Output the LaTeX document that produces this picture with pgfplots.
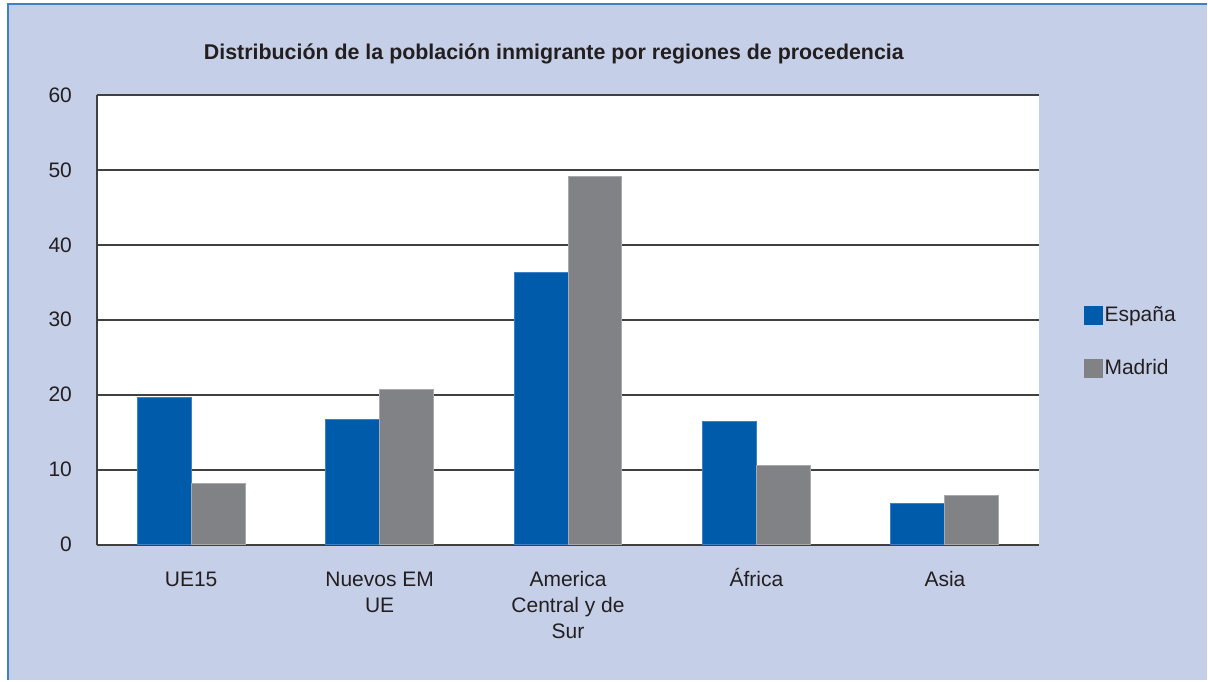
\documentclass[border=0pt]{standalone}
\usepackage{pgfplots}
\pgfplotsset{compat=1.18}
\usepackage{fontspec}
\setmainfont{Liberation Sans}
\definecolor{bgc}{HTML}{C5CFE8}
\definecolor{frameblue}{HTML}{3F7FC4}
\definecolor{esp}{HTML}{005BAA}
\definecolor{espedge}{HTML}{3F80C4}
\definecolor{mad}{HTML}{808285}
\definecolor{madedge}{HTML}{A7A9AC}
\definecolor{gridc}{HTML}{404040}
\definecolor{txt}{HTML}{231F20}
\begin{document}
\begin{tikzpicture}
% background panel (1px = 0.5pt)
\fill[white] (-48.5pt,-68pt) rectangle (555.5pt,272.5pt);
\fill[bgc] (-45pt,-68pt) rectangle (555.5pt,270.5pt);
\draw[frameblue,line width=1pt] (-44.5pt,-68pt) -- (-44.5pt,270.5pt) -- (555.5pt,270.5pt);
\begin{axis}[
    at={(0,0)}, anchor=south west,
    scale only axis,
    width=471.5pt,
    height=225pt,
    ybar=0pt,
    bar width=27pt,
    xmin=-0.5, xmax=4.5,
    ymin=0, ymax=60,
    ytick={0,10,...,60},
    xtick={0,1,2,3,4},
    xticklabels={UE15, Nuevos EM\\UE, America\\Central y de\\Sur, \smash{Á}frica, Asia},
    major tick length=0pt,
    axis background/.style={fill=white},
    axis x line*=bottom,
    axis y line*=left,
    axis line style={-, draw=gridc, line width=1pt},
    ymajorgrids,
    grid style={draw=gridc, line width=1pt},
    font=\fontsize{10.5}{13}\selectfont,
    /pgf/number format/assume math mode=true,
    tick label style={text=txt},
    yticklabel style={xshift=-9pt},
    xticklabel style={align=center, yshift=-10pt},
    title={\textbf{Distribución de la población inmigrante por regiones de procedencia}},
    title style={at={(0.485,1.0645)}, anchor=center, font=\fontsize{10.7}{13}\selectfont, text=txt},
    legend style={at={(1.0467,0.451)}, anchor=west, draw=none, fill=none,
        font=\fontsize{10.5}{13}\selectfont, text=txt, row sep=15.5pt,
        inner sep=0pt, nodes={inner sep=1pt}},
    legend cell align=left,
]
\addplot[fill=esp, draw=espedge, line width=0.5pt,
    legend image code/.code={\fill[esp] (0pt,-4.5pt) rectangle (9pt,4.5pt);}]
    coordinates {(0,19.6) (1,16.7) (2,36.3) (3,16.4) (4,5.5)};
\addplot[fill=mad, draw=madedge, line width=0.5pt,
    legend image code/.code={\fill[mad] (0pt,-4.5pt) rectangle (9pt,4.5pt);}]
    coordinates {(0,8.1) (1,20.7) (2,49.1) (3,10.5) (4,6.5)};
\legend{España, Madrid}
\end{axis}
\end{tikzpicture}
\end{document}
